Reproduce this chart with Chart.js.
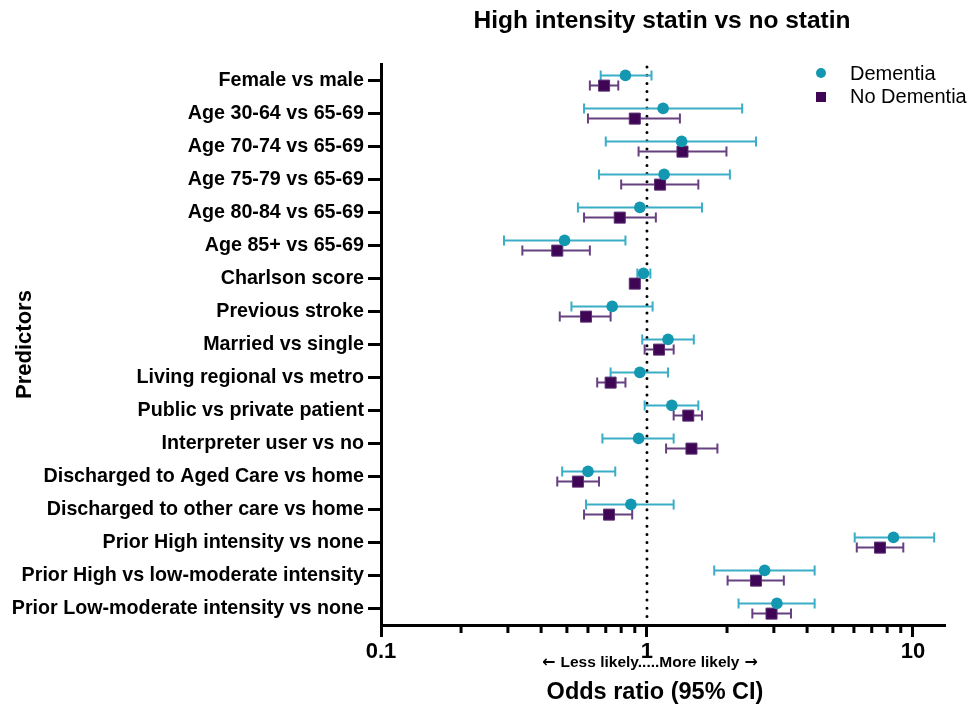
<!DOCTYPE html>
<html>
<head>
<meta charset="utf-8">
<script src="https://cdn.jsdelivr.net/npm/chart.js@4.4.1/dist/chart.umd.min.js"></script>
<style>
  body { margin: 0; background: #fff; }
  #wrap { width: 973px; height: 705px; }
</style>
</head>
<body>
<div id="wrap"><canvas id="forestChart" width="973" height="705"></canvas></div>
<script>
// Forest plot data (top to bottom)
const predictors = [
    'Female vs male',
    'Age 30-64 vs 65-69',
    'Age 70-74 vs 65-69',
    'Age 75-79 vs 65-69',
    'Age 80-84 vs 65-69',
    'Age 85+ vs 65-69',
    'Charlson score',
    'Previous stroke',
    'Married vs single',
    'Living regional vs metro',
    'Public vs private patient',
    'Interpreter user vs no',
    'Discharged to Aged Care vs home',
    'Discharged to other care vs home',
    'Prior High intensity vs none',
    'Prior High vs low-moderate intensity',
    'Prior Low-moderate intensity vs none'
];

const demOR = [0.83, 1.15, 1.35, 1.16, 0.94, 0.49, 0.97, 0.74, 1.20, 0.94, 1.24, 0.93, 0.60, 0.87, 8.45, 2.77, 3.08];
const demLo = [0.67, 0.58, 0.70, 0.66, 0.55, 0.29, 0.92, 0.52, 0.96, 0.73, 0.98, 0.68, 0.48, 0.59, 6.04, 1.79, 2.21];
const demHi = [1.04, 2.28, 2.57, 2.05, 1.61, 0.83, 1.03, 1.05, 1.50, 1.20, 1.56, 1.26, 0.76, 1.26, 12.02, 4.27, 4.27];

const ndOR = [0.69, 0.90, 1.36, 1.12, 0.79, 0.46, 0.90, 0.59, 1.11, 0.73, 1.43, 1.47, 0.55, 0.72, 7.52, 2.57, 2.94];
const ndLo = [0.61, 0.60, 0.93, 0.80, 0.58, 0.34, 0.88, 0.47, 0.98, 0.65, 1.26, 1.18, 0.46, 0.58, 6.15, 2.01, 2.49];
const ndHi = [0.78, 1.33, 1.99, 1.56, 1.08, 0.61, 0.91, 0.73, 1.26, 0.83, 1.61, 1.84, 0.66, 0.88, 9.20, 3.27, 3.48];

const xTicks = [0.1, 0.2, 0.3, 0.4, 0.5, 0.6, 0.7, 0.8, 0.9, 1, 2, 3, 4, 5, 6, 7, 8, 9, 10];
const xLabels = [0.1, 1, 10];

const FONT = '"Liberation Sans", Arial, sans-serif';
const teal = '#1497b1';
const tealBar = '#3aaec6';
const purple = '#3f0656';
const purpleBar = '#674080';
const rowOffset = 0.155;

function toPoints(values, shift) {
    return values.map((v, i) => ({ x: v, y: i + shift }));
}

const datasets = [
    {
        label: 'Dementia',
        data: toPoints(demOR, -rowOffset),
        lo: demLo, hi: demHi, barColor: tealBar,
        backgroundColor: teal, borderColor: teal,
        pointStyle: 'circle', pointRadius: 5.8, borderWidth: 0
    },
    {
        label: 'No Dementia',
        data: toPoints(ndOR, rowOffset),
        lo: ndLo, hi: ndHi, barColor: purpleBar,
        backgroundColor: purple, borderColor: '#5a2f73',
        pointStyle: 'rect', pointRadius: 7.8, borderWidth: 1
    }
];

// Reference line, error bars, titles, legend, minor ticks
const forestPlugin = {
    id: 'forest',
    beforeDatasetsDraw(chart) {
        const { ctx, chartArea, scales } = chart;
        const x = scales.x, y = scales.y;
        ctx.save();
        // dotted line at OR = 1
        const x1 = x.getPixelForValue(1);
        ctx.strokeStyle = '#000';
        ctx.lineWidth = 3;
        ctx.lineCap = 'round';
        ctx.setLineDash([0, 8.2]);
        ctx.beginPath();
        ctx.moveTo(x1, chartArea.top + 3);
        ctx.lineTo(x1, chartArea.bottom - 2);
        ctx.stroke();
        ctx.setLineDash([]);
        ctx.lineCap = 'butt';
        // error bars
        chart.data.datasets.forEach(ds => {
            ctx.strokeStyle = ds.barColor;
            ctx.lineWidth = 2;
            ds.data.forEach((p, i) => {
                const py = y.getPixelForValue(p.y);
                const xl = x.getPixelForValue(ds.lo[i]);
                const xh = x.getPixelForValue(ds.hi[i]);
                ctx.beginPath();
                ctx.moveTo(xl, py); ctx.lineTo(xh, py);
                ctx.moveTo(xl, py - 5); ctx.lineTo(xl, py + 5);
                ctx.moveTo(xh, py - 5); ctx.lineTo(xh, py + 5);
                ctx.stroke();
            });
        });
        ctx.restore();
    },
    afterDraw(chart) {
        const { ctx, chartArea, scales } = chart;
        const x = scales.x;
        ctx.save();
        // minor ticks
        ctx.strokeStyle = '#000';
        ctx.lineWidth = 3;
        xTicks.forEach(v => {
            if (xLabels.includes(v)) return;
            const px = x.getPixelForValue(v);
            ctx.beginPath();
            ctx.moveTo(px, chartArea.bottom);
            ctx.lineTo(px, chartArea.bottom + 8);
            ctx.stroke();
        });
        // title
        const cx = (chartArea.left + chartArea.right) / 2;
        ctx.fillStyle = '#000';
        ctx.textAlign = 'center';
        ctx.textBaseline = 'middle';
        ctx.font = 'bold 24.5px ' + FONT;
        ctx.fillText('High intensity statin vs no statin', 662, 21);
        // direction hint: heavier arrows from DejaVu, words from Liberation
        const hint = 'Less likely.....More likely';
        ctx.font = 'bold 15.5px ' + FONT;
        const hw = ctx.measureText(hint).width;
        const hx = x.getPixelForValue(1) + 3;
        ctx.fillText(hint, hx, 663);
        ctx.font = 'bold 16px "DejaVu Sans", sans-serif';
        ctx.textAlign = 'right';
        ctx.fillText('\u2190', hx - hw / 2 - 5, 663);
        ctx.textAlign = 'left';
        ctx.fillText('\u2192', hx + hw / 2 + 5, 663);
        ctx.textAlign = 'center';
        ctx.font = 'bold 23.5px ' + FONT;
        ctx.fillText('Odds ratio (95% CI)', 655, 693);
        // legend
        ctx.textAlign = 'left';
        ctx.font = '20px ' + FONT;
        ctx.fillStyle = teal;
        ctx.beginPath();
        ctx.arc(821, 73, 5, 0, Math.PI * 2);
        ctx.fill();
        ctx.fillStyle = purple;
        ctx.fillRect(816, 92, 10, 10);
        ctx.fillStyle = '#000';
        ctx.fillText('Dementia', 850, 74);
        ctx.fillText('No Dementia', 850, 97);
        ctx.restore();
    }
};

new Chart(document.getElementById('forestChart'), {
    type: 'scatter',
    data: { datasets: datasets },
    options: {
        responsive: false,
        animation: false,
        layout: {
            padding: { top: 64, right: 28, left: 0, bottom: 0 }
        },
        plugins: {
            legend: { display: false },
            tooltip: { enabled: false }
        },
        scales: {
            x: {
                type: 'logarithmic',
                min: 0.1,
                max: 13.2,
                afterBuildTicks: scale => {
                    scale.ticks = xTicks.map(v => ({ value: v, major: xLabels.includes(v) }));
                },
                afterFit: scale => { scale.height = 80; },
                border: { display: true, color: '#000', width: 3 },
                grid: {
                    drawOnChartArea: false,
                    drawTicks: true,
                    tickLength: 12,
                    tickWidth: 3,
                    tickColor: c => (c.tick && xLabels.includes(c.tick.value)) ? '#000' : 'rgba(0,0,0,0)'
                },
                ticks: {
                    autoSkip: false,
                    maxRotation: 0,
                    padding: 2,
                    color: '#000',
                    font: { family: FONT, size: 22, weight: 'bold' },
                    callback: v => xLabels.includes(v) ? String(v) : ''
                }
            },
            y: {
                type: 'linear',
                reverse: true,
                min: -0.5,
                max: predictors.length - 0.5,
                afterBuildTicks: scale => {
                    scale.ticks = predictors.map((p, i) => ({ value: i }));
                },
                afterFit: scale => { scale.width = 381; },
                border: { display: true, color: '#000', width: 3 },
                grid: {
                    drawOnChartArea: false,
                    drawTicks: true,
                    tickLength: 13,
                    tickWidth: 3,
                    tickColor: '#000'
                },
                ticks: {
                    autoSkip: false,
                    padding: 4,
                    color: '#000',
                    font: { family: FONT, size: 19.7, weight: 'bold' },
                    callback: (v, i) => predictors[i]
                },
                title: {
                    display: true,
                    text: 'Predictors',
                    color: '#000',
                    font: { family: FONT, size: 22, weight: 'bold' },
                    padding: { top: 12, bottom: 0 }
                }
            }
        }
    },
    plugins: [forestPlugin]
});
</script>
</body>
</html>
